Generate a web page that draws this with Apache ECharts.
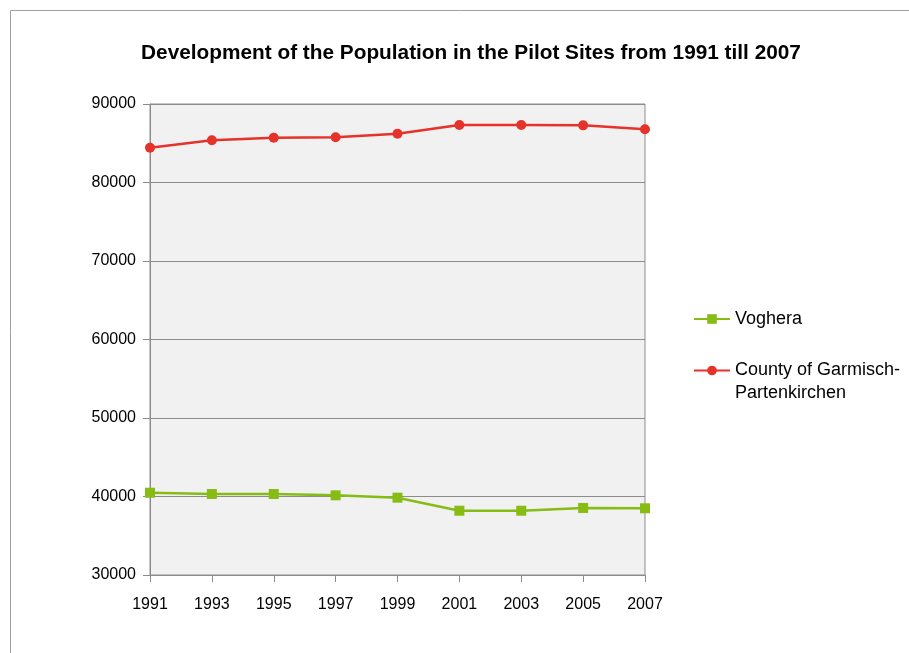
<!DOCTYPE html>
<html lang="en">
<head>
  <meta charset="UTF-8">
  <title>Population in the Pilot Sites</title>
  <script src="https://cdn.jsdelivr.net/npm/echarts@6.0.0/dist/echarts.min.js"></script>
  <style>
    html, body { margin: 0; padding: 0; background: #fff; }
    #chart { width: 909px; height: 653px; }
  </style>
</head>
<body>
  <div id="chart"></div>
<script>
  // values
  const years = ['1991', '1993', '1995', '1997', '1999', '2001', '2003', '2005', '2007']
  const voghera = [40480, 40320, 40320, 40150, 39850, 38190, 38190, 38540, 38500]
  const garmisch = [84430, 85380, 85710, 85760, 86220, 87320, 87320, 87280, 86780]
  const yTicks = [30000, 40000, 50000, 60000, 70000, 80000, 90000]

  const font = 'Liberation Sans, Arial, sans-serif'
  const green = '#86bc14'
  const red = '#e5322a'

  const myChart = echarts.init(document.getElementById('chart'))
  const option = {
    animation: false,
    backgroundColor: '#fff',
    title: {
      text: 'Development of the Population in the Pilot Sites from 1991 till 2007',
      left: 466, top: 38, textAlign: 'center',
      textStyle: { fontFamily: font, fontSize: 20.8, fontWeight: 'bold', color: '#000' }
    },
    graphic: [{
      type: 'rect', silent: true,
      shape: { x: 10.5, y: 10.5, width: 1000, height: 1000 },
      style: { fill: 'none', stroke: '#a0a0a0', lineWidth: 1 }
    }],
    grid: {
      left: 150, right: 264, top: 104, bottom: 78,
      show: true, backgroundColor: '#f1f1f1', borderColor: '#8c8c8c', borderWidth: 1
    },
    legend: [{
      orient: 'vertical', left: 693, top: 310, padding: 0,
      itemWidth: 36, itemHeight: 12, itemGap: 4,
      data: ['Voghera'],
      textStyle: { fontFamily: font, fontSize: 18, color: '#000' }
    }, {
      orient: 'vertical', left: 693, top: 336, padding: 0,
      itemWidth: 36, itemHeight: 12, itemGap: 4,
      data: ['County of Garmisch-Partenkirchen'],
      formatter: () => ' \nCounty of Garmisch-\nPartenkirchen',
      textStyle: { fontFamily: font, fontSize: 18, color: '#000', lineHeight: 23 }
    }],
    xAxis: {
      type: 'category', data: years, boundaryGap: false,
      axisLine: { lineStyle: { color: '#8c8c8c' } },
      axisTick: { show: true, length: 7, lineStyle: { color: '#8c8c8c' } },
      axisLabel: { margin: 22, fontFamily: font, fontSize: 16, color: '#000' },
      splitLine: { show: false }
    },
    yAxis: {
      type: 'value', min: yTicks[0], max: yTicks[yTicks.length - 1], interval: 10000,
      axisLine: { show: true, lineStyle: { color: '#8c8c8c' } },
      axisTick: { show: true, length: 7, lineStyle: { color: '#8c8c8c' } },
      axisLabel: { margin: 14, fontFamily: font, fontSize: 16, color: '#000', formatter: v => String(v) },
      splitLine: { lineStyle: { color: '#8c8c8c' } }
    },
    series: [{
      name: 'Voghera', type: 'line', data: voghera,
      symbol: 'rect', symbolSize: 10,
      itemStyle: { color: green }, lineStyle: { color: green, width: 2.5 }
    }, {
      name: 'County of Garmisch-Partenkirchen', type: 'line', data: garmisch,
      symbol: 'circle', symbolSize: 10,
      itemStyle: { color: red }, lineStyle: { color: red, width: 2.5 }
    }]
  }
  myChart.setOption(option)
</script>
</body>
</html>
